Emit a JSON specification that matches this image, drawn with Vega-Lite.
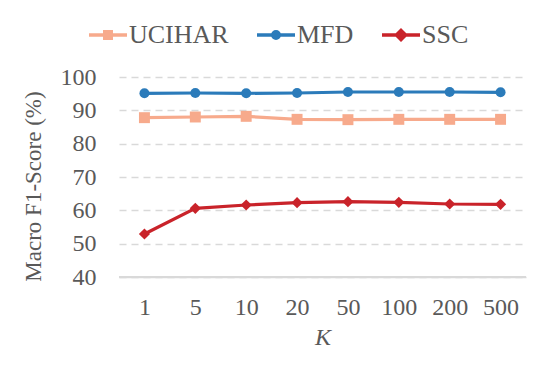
{
  "$schema": "https://vega.github.io/schema/vega-lite/v6.json",
  "autosize": "none",
  "width": 407,
  "height": 200,
  "padding": {"left": 119, "top": 77, "right": 22, "bottom": 107},
  "background": "white",
  "config": {
    "view": {"stroke": null},
    "font": "Liberation Serif",
    "axis": {"labelFont": "Liberation Serif", "titleFont": "Liberation Serif", "labelColor": "#595959", "titleColor": "#595959", "labelFontSize": 24, "titleFontWeight": "normal"},
    "legend": {"labelFont": "Liberation Serif", "labelColor": "#595959", "labelFontSize": 26}
  },
  "data": {
    "values": [
      {"K": "1", "series": "UCIHAR", "value": 87.8},
      {"K": "5", "series": "UCIHAR", "value": 88.0},
      {"K": "10", "series": "UCIHAR", "value": 88.2},
      {"K": "20", "series": "UCIHAR", "value": 87.3},
      {"K": "50", "series": "UCIHAR", "value": 87.2},
      {"K": "100", "series": "UCIHAR", "value": 87.3},
      {"K": "200", "series": "UCIHAR", "value": 87.3},
      {"K": "500", "series": "UCIHAR", "value": 87.3},
      {"K": "1", "series": "MFD", "value": 95.1},
      {"K": "5", "series": "MFD", "value": 95.2},
      {"K": "10", "series": "MFD", "value": 95.1},
      {"K": "20", "series": "MFD", "value": 95.2},
      {"K": "50", "series": "MFD", "value": 95.5},
      {"K": "100", "series": "MFD", "value": 95.5},
      {"K": "200", "series": "MFD", "value": 95.5},
      {"K": "500", "series": "MFD", "value": 95.4},
      {"K": "1", "series": "SSC", "value": 52.9},
      {"K": "5", "series": "SSC", "value": 60.6},
      {"K": "10", "series": "SSC", "value": 61.6},
      {"K": "20", "series": "SSC", "value": 62.3},
      {"K": "50", "series": "SSC", "value": 62.6},
      {"K": "100", "series": "SSC", "value": 62.4},
      {"K": "200", "series": "SSC", "value": 61.9},
      {"K": "500", "series": "SSC", "value": 61.8}
    ]
  },
  "encoding": {
    "x": {
      "field": "K", "type": "ordinal",
      "sort": ["1", "5", "10", "20", "50", "100", "200", "500"],
      "scale": {"type": "point", "padding": 0.5},
      "axis": {
        "title": "K", "titleFontStyle": "italic", "titleFontSize": 24, "titlePadding": 6,
        "labelAngle": 0, "labelPadding": 18, "ticks": false,
        "domainColor": "#D9D9D9", "domainWidth": 1.5, "grid": false
      }
    },
    "y": {
      "field": "value", "type": "quantitative",
      "scale": {"domain": [40, 100], "nice": false, "zero": false},
      "axis": {
        "title": "Macro F1-Score (%)", "titleFontSize": 23, "titleX": -74, "titleY": 109,
        "values": [40, 50, 60, 70, 80, 90, 100],
        "labelPadding": 23, "ticks": false, "domain": false,
        "gridColor": "#D9D9D9", "gridDash": [7, 5], "gridWidth": 1.3
      }
    },
    "color": {
      "field": "series", "type": "nominal",
      "sort": ["UCIHAR", "MFD", "SSC"],
      "scale": {"domain": ["UCIHAR", "MFD", "SSC"], "range": ["#F7AA8C", "#2B7BBA", "#C9232A"]},
      "legend": {
        "title": null, "orient": "none", "direction": "horizontal",
        "legendX": -32, "legendY": -63,
        "symbolSize": 1444, "labelOffset": 0, "columnPadding": 21,
        "symbolStrokeWidth": 3.5, "symbolOpacity": 1,
        "encode": {
          "symbols": {
            "update": {
              "shape": {"signal": "datum.value === 'UCIHAR' ? 'M-1,0H1M-0.17,-0.17H0.17V0.17H-0.17Z' : datum.value === 'MFD' ? 'M-1,0H1M-0.17,0A0.17,0.17 0 1,0 0.17,0A0.17,0.17 0 1,0 -0.17,0Z' : 'M-1,0H1M0,-0.24L0.24,0L0,0.24L-0.24,0Z'"},
              "stroke": {"signal": "datum.value === 'UCIHAR' ? '#F7AA8C' : datum.value === 'MFD' ? '#2B7BBA' : '#C9232A'"},
              "fill": {"signal": "datum.value === 'UCIHAR' ? '#F7AA8C' : datum.value === 'MFD' ? '#2B7BBA' : '#C9232A'"},
              "size": {"value": 1444},
              "strokeWidth": {"value": 3.5},
              "opacity": {"value": 1}
            }
          }
        }
      }
    }
  },
  "layer": [
    {
      "mark": {"type": "rule", "color": "#D9D9D9", "strokeWidth": 1.5},
      "encoding": {"y": {"datum": 40}, "x": null, "color": null}
    },
    {
      "mark": {"type": "line", "strokeWidth": 3.2},
      "encoding": {}
    },
    {
      "transform": [{"filter": "datum.series === 'UCIHAR'"}],
      "mark": {"type": "point", "filled": true, "opacity": 1, "shape": "square", "size": 120},
      "encoding": {}
    },
    {
      "transform": [{"filter": "datum.series === 'MFD'"}],
      "mark": {"type": "point", "filled": true, "opacity": 1, "shape": "circle", "size": 100},
      "encoding": {}
    },
    {
      "transform": [{"filter": "datum.series === 'SSC'"}],
      "mark": {"type": "point", "filled": true, "opacity": 1, "shape": "diamond", "size": 125},
      "encoding": {}
    }
  ]
}
